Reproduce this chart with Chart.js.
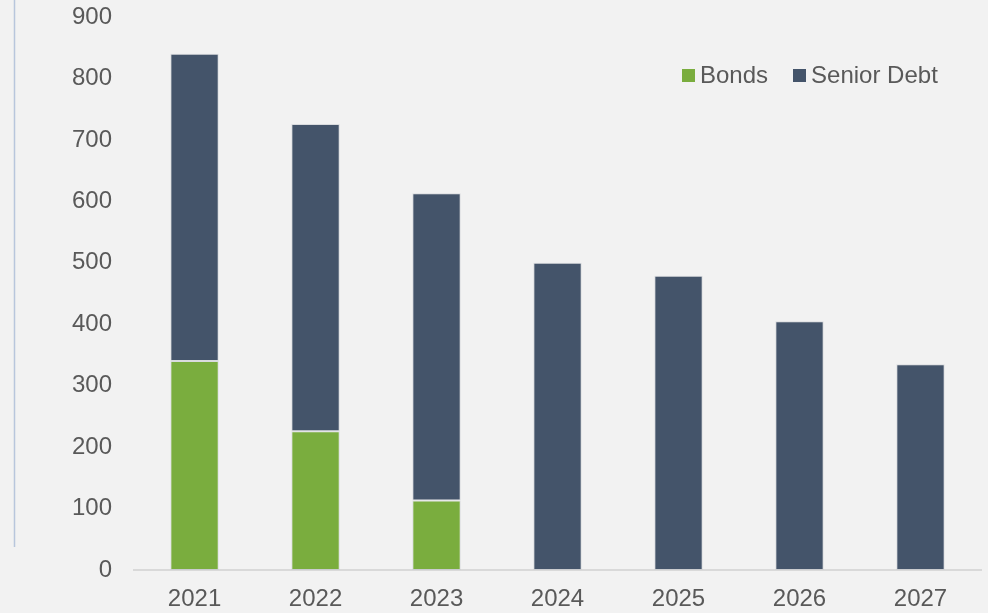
<!DOCTYPE html>
<html>
<head>
<meta charset="utf-8">
<script src="https://cdn.jsdelivr.net/npm/chart.js@4"></script>
<style>
  html, body { margin: 0; padding: 0; background: #f2f2f2; }
  #wrap { position: relative; width: 988px; height: 613px; }
  #legend {
    position: absolute; top: 61px; left: 682px;
    display: flex; align-items: center;
    font-family: "Liberation Sans", Arial, sans-serif; font-size: 24px; color: #595959;
  }
  #legend .item { display: flex; align-items: center; margin-right: 25px; }
  #legend .box { width: 13px; height: 13px; margin-right: 5px; }
</style>
</head>
<body>
<div id="wrap">
  <canvas id="debtChart" width="988" height="613"></canvas>
  <div id="legend"></div>
</div>
<script>
const years = ['2021', '2022', '2023', '2024', '2025', '2026', '2027'];
const bonds = [340, 226, 113, 0, 0, 0, 0];
const seniorDebt = [500, 500, 500, 500, 479, 405, 335];
const yTicks = [0, 100, 200, 300, 400, 500, 600, 700, 800, 900];

const textColor = '#595959';
const fontFamily = '"Liberation Sans", Arial, sans-serif';
const barEdge = 'rgba(180,186,192,0.4)';

// thin blue rule down the left edge
const edgeRule = {
  id: 'edgeRule',
  beforeDraw(chart) {
    const c = chart.ctx;
    c.save();
    c.strokeStyle = '#b8c6dc';
    c.lineWidth = 1.5;
    c.beginPath();
    c.moveTo(14.5, 0);
    c.lineTo(14.5, 547);
    c.stroke();
    c.restore();
  }
};

const ctx = document.getElementById('debtChart').getContext('2d');
const chart = new Chart(ctx, {
  type: 'bar',
  data: {
    labels: years,
    datasets: [
      {
        label: 'Bonds',
        data: bonds,
        backgroundColor: '#7aad3e',
        borderColor: barEdge,
        borderWidth: 1,
        borderSkipped: false
      },
      {
        label: 'Senior Debt',
        data: seniorDebt,
        backgroundColor: '#44546a',
        borderColor: barEdge,
        borderWidth: 1,
        borderSkipped: false
      }
    ]
  },
  options: {
    responsive: false,
    animation: false,
    layout: {
      autoPadding: false,
      padding: { left: 50, right: 7, top: 17, bottom: 0 }
    },
    datasets: {
      bar: { categoryPercentage: 1, barPercentage: 0.4 }
    },
    scales: {
      x: {
        stacked: true,
        afterFit: (axis) => { axis.height = 43; },
        grid: { display: false, drawTicks: false },
        border: { display: true, color: '#d9d9d9', width: 2 },
        ticks: {
          color: textColor,
          padding: 15,
          font: { family: fontFamily, size: 24 }
        }
      },
      y: {
        stacked: true,
        min: 0,
        max: 900,
        afterBuildTicks: (axis) => { axis.ticks = yTicks.map(v => ({ value: v })); },
        // tick padding would otherwise also pad the top and bottom
        afterFit: (axis) => { axis.paddingTop = 0; axis.paddingBottom = 0; },
        grid: { display: false, drawTicks: false },
        border: { display: false },
        ticks: {
          color: textColor,
          padding: 22,
          font: { family: fontFamily, size: 24 }
        }
      }
    },
    plugins: {
      legend: { display: false },
      tooltip: { enabled: false }
    }
  },
  plugins: [edgeRule]
});

// legend built from the chart's datasets
const legendEl = document.getElementById('legend');
chart.data.datasets.forEach(ds => {
  const item = document.createElement('div');
  item.className = 'item';
  const box = document.createElement('span');
  box.className = 'box';
  box.style.background = ds.backgroundColor;
  const label = document.createElement('span');
  label.textContent = ds.label;
  item.appendChild(box);
  item.appendChild(label);
  legendEl.appendChild(item);
});
</script>
</body>
</html>
